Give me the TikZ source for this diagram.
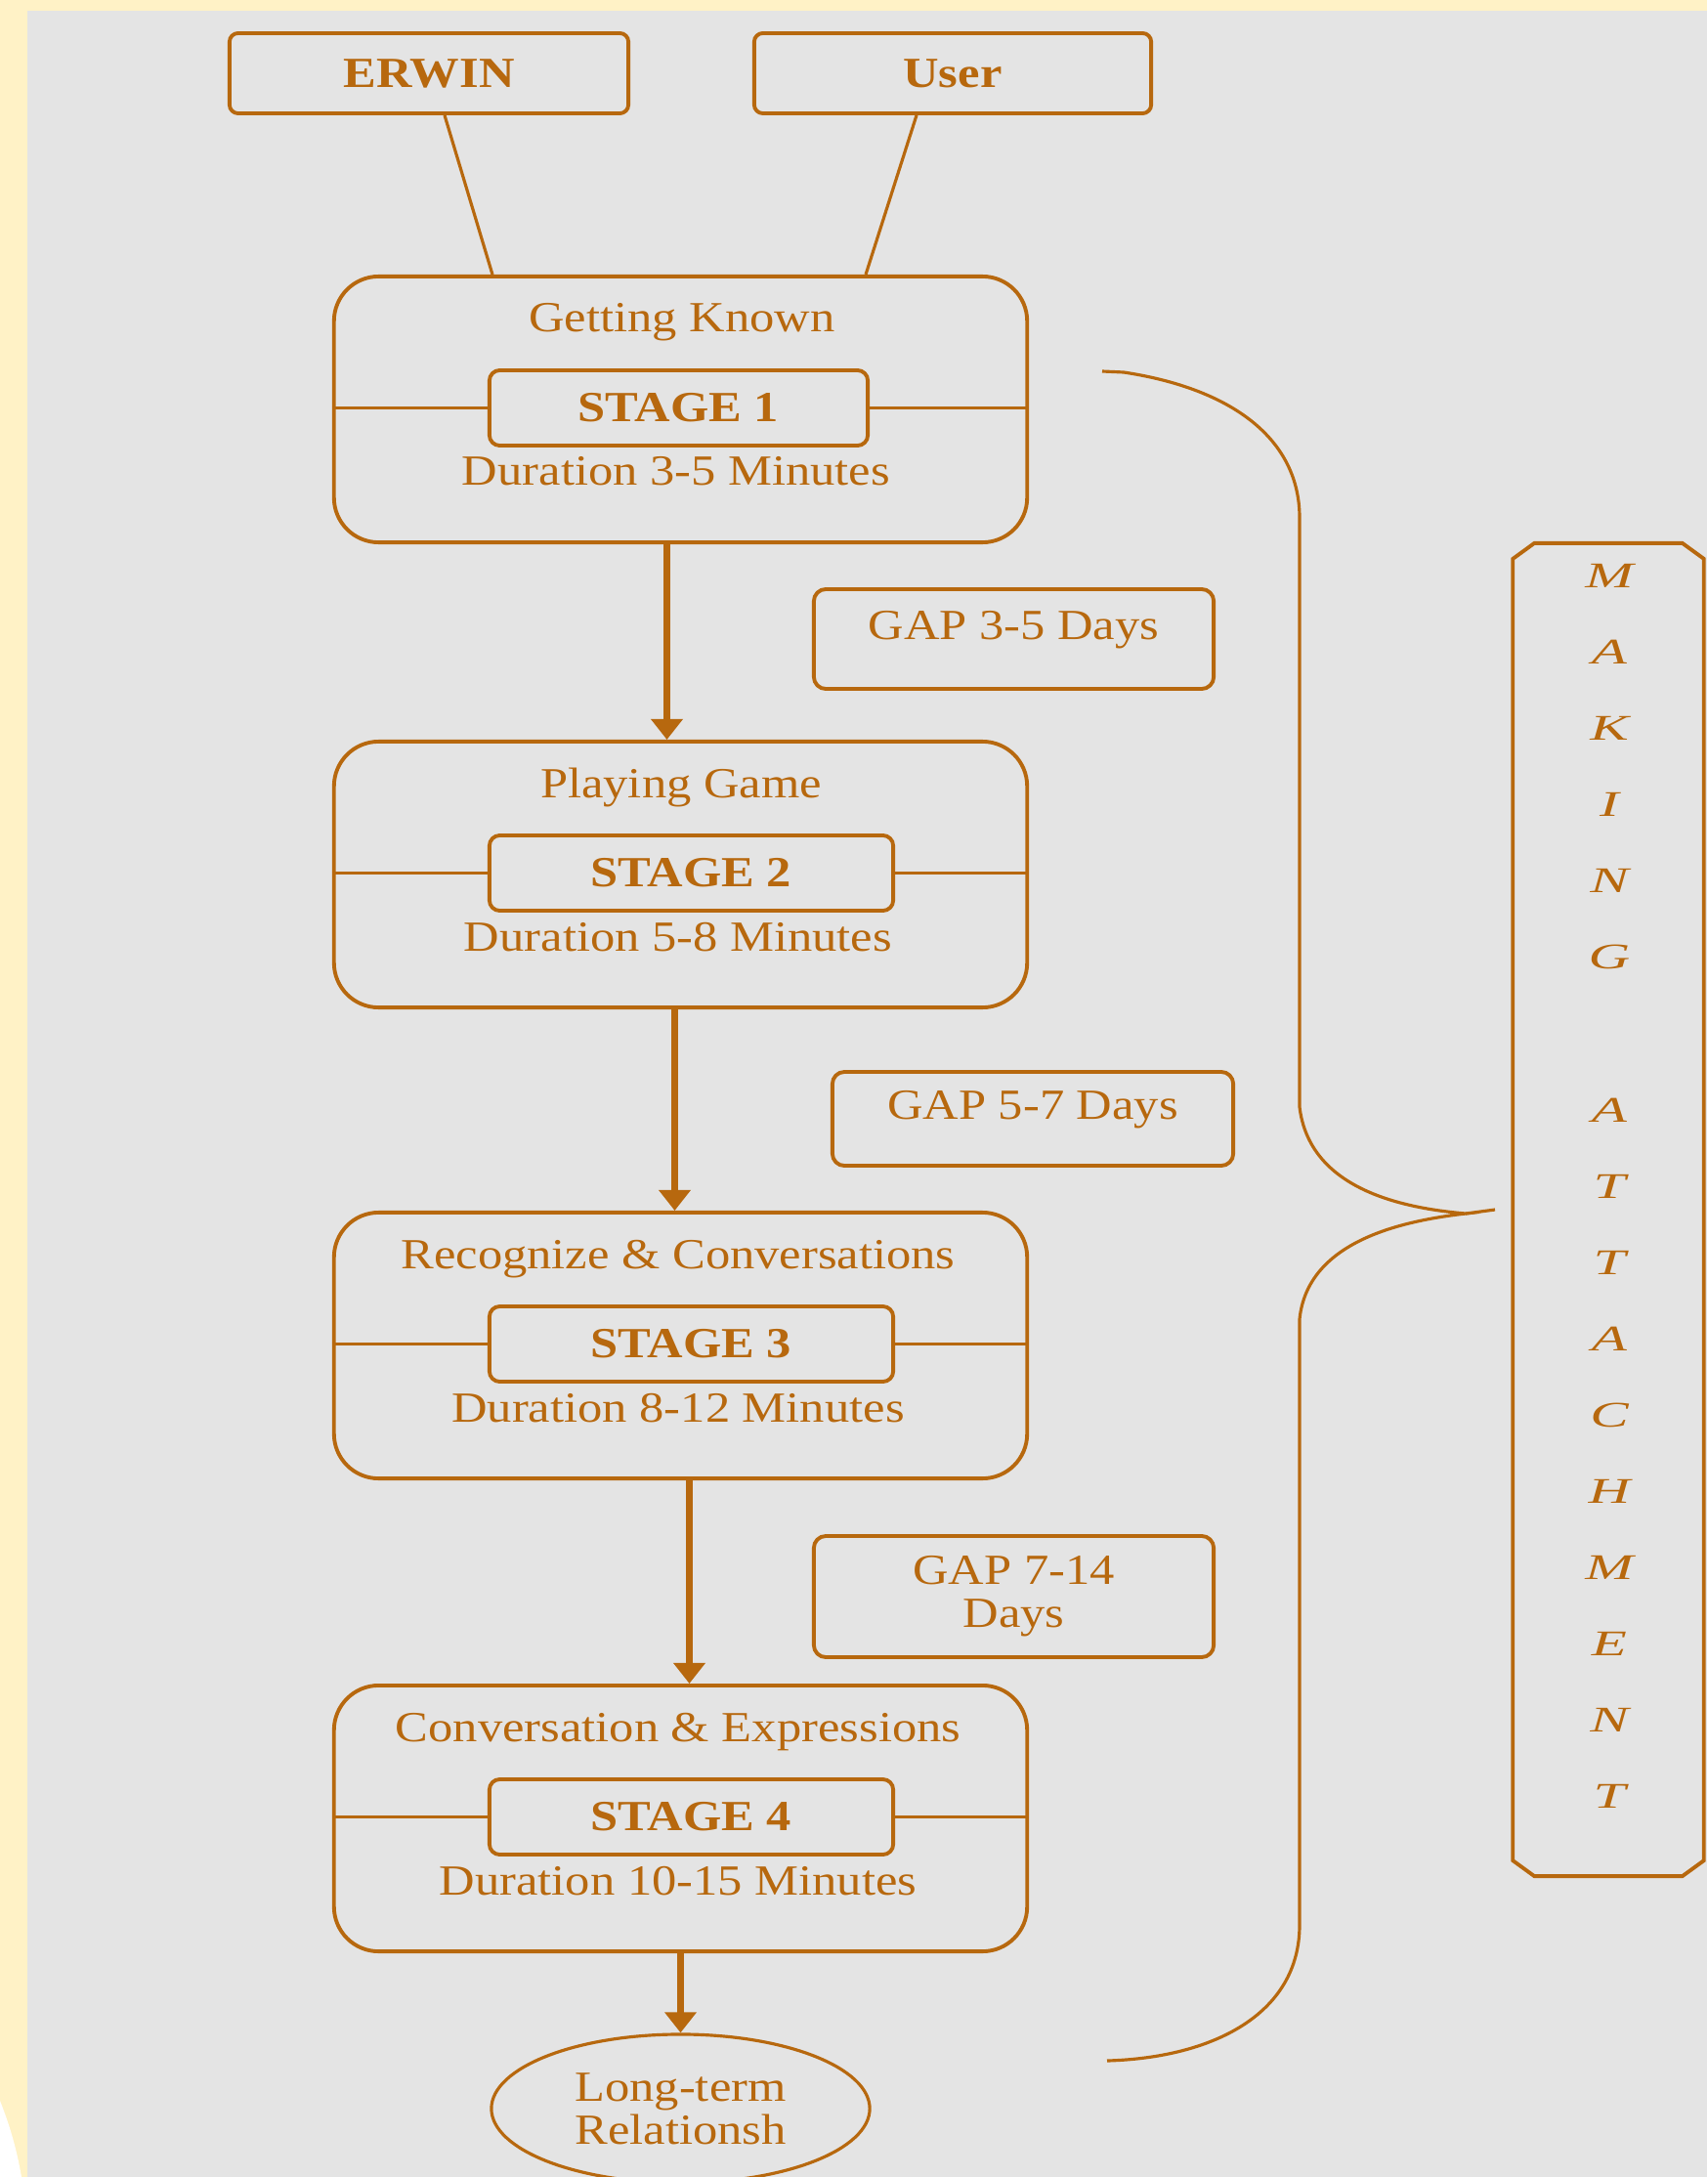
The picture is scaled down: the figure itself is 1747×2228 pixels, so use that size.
\documentclass[tikz,border=0pt]{standalone}
\usepackage{fontspec}
\setmainfont{Liberation Serif}[FakeStretch=1.15]
\newfontfamily\widefont{Liberation Serif}[FakeStretch=1.6]
\usetikzlibrary{shapes.geometric,shapes.misc,arrows.meta,calc}
\definecolor{brn}{RGB}{183,104,14}
\definecolor{bgyel}{RGB}{255,242,198}
\definecolor{panel}{RGB}{228,228,228}
\begin{document}
\begin{tikzpicture}[x=0.01cm,y=-0.01cm,
  every node/.style={text=brn, font=\fontsize{12.5}{12.5}\selectfont},
  brline/.style={draw=brn, line width=1.1pt},
  thinline/.style={draw=brn, line width=0.9pt},
  topbox/.style={brline, rounded corners=2.5pt, minimum height=0.82cm, inner sep=0pt, font=\fontsize{12.5}{12.5}\selectfont\bfseries},
  stagebox/.style={brline, rounded corners=13pt, minimum width=7.09cm, minimum height=2.72cm, inner sep=0pt},
  innerbox/.style={brline, rounded corners=3pt, minimum height=0.77cm, inner sep=0pt, font=\fontsize{12.5}{12.5}\selectfont\bfseries},
  gapbox/.style={brline, rounded corners=3.5pt, inner sep=0pt, align=center},
  stagetext/.style={anchor=base, inner sep=0pt},
  arr/.style={draw=brn, line width=1.8pt, -{Triangle[length=6pt,width=9pt]}},
]
% background
\useasboundingbox (0,0) rectangle (1747,2228);
\clip (0,0) rectangle (1747,2228);
\fill[bgyel] (0,0) rectangle (1747,2228);
\fill[panel] (28,11) rectangle (1747,2228);
\fill[white] (0,2150) .. controls (12,2180) and (18,2205) .. (22,2228) -- (0,2228) -- cycle;

% top boxes
\node[topbox, minimum width=4.08cm] (erwin) at (439,75) {ERWIN};
\node[topbox, minimum width=4.06cm] (user) at (975,75) {User};

% stage 1
\node[stagebox] (s1) at (696.5,419) {};
\node[stagetext] (s1t) at (698,340) {Getting Known};
\node[innerbox, minimum width=3.87cm] (s1in) at (694.5,417.5) {STAGE 1};
\node[stagetext] (s1d) at (692,497) {Duration 3-5 Minutes};
\draw[brline] (s1.west |- s1in.center) -- (s1in.west);
\draw[brline] (s1in.east) -- (s1.east |- s1in.center);

% stage 2
\node[stagebox] (s2) at (696.5,895) {};
\node[stagetext] (s2t) at (697,816) {Playing Game};
\node[innerbox, minimum width=4.13cm] (s2in) at (707.5,893.5) {STAGE 2};
\node[stagetext] (s2d) at (694,973) {Duration 5-8 Minutes};
\draw[brline] (s2.west |- s2in.center) -- (s2in.west);
\draw[brline] (s2in.east) -- (s2.east |- s2in.center);

% stage 3
\node[stagebox] (s3) at (696.5,1377) {};
\node[stagetext] (s3t) at (694,1298) {Recognize \& Conversations};
\node[innerbox, minimum width=4.13cm] (s3in) at (707.5,1375.5) {STAGE 3};
\node[stagetext] (s3d) at (694,1455) {Duration 8-12 Minutes};
\draw[brline] (s3.west |- s3in.center) -- (s3in.west);
\draw[brline] (s3in.east) -- (s3.east |- s3in.center);

% stage 4
\node[stagebox] (s4) at (696.5,1861) {};
\node[stagetext] (s4t) at (694,1782) {Conversation \& Expressions};
\node[innerbox, minimum width=4.13cm] (s4in) at (707.5,1859.5) {STAGE 4};
\node[stagetext] (s4d) at (694,1939) {Duration 10-15 Minutes};
\draw[brline] (s4.west |- s4in.center) -- (s4in.west);
\draw[brline] (s4in.east) -- (s4.east |- s4in.center);

% gap boxes
\node[gapbox, minimum width=4.09cm, minimum height=1.02cm, text height=9pt, text depth=9pt] (g1) at (1037.5,654) {GAP 3-5 Days};
\node[gapbox, minimum width=4.10cm, minimum height=0.96cm, text height=9pt, text depth=9pt] (g2) at (1057,1145) {GAP 5-7 Days};
\node[gapbox, minimum width=4.09cm, minimum height=1.24cm] (g3) at (1037.5,1634) {GAP 7-14\\Days};

% final ellipse
\node[ellipse, thinline, minimum width=3.87cm, minimum height=1.52cm, inner sep=0pt, align=center] (lt) at (696.5,2158) {Long-term\\Relationsh};

% connectors
\draw[thinline] ($(erwin.south)+(16,0)$) -- ($(s1.north)+(-192.5,0)$);
\draw[thinline] ($(user.south)+(-37,0)$) -- ($(s1.north)+(189.5,0)$);
\draw[arr] ($(s1.south)+(-14,0)$) -- ($(s2.north)+(-14,0)$);
\draw[arr] ($(s2.south)+(-6,0)$) -- ($(s3.north)+(-6,0)$);
\draw[arr] ($(s3.south)+(9,0)$) -- ($(s4.north)+(9,0)$);
\draw[arr] (s4.south) -- (lt.north);

% making attachment box (chamfered outline drawn on the node's anchors)
\node[inner sep=0pt, minimum width=1.94cm, minimum height=13.62cm] (mk) at (1646,1238) {};
\draw[brline]
  ($(mk.north west)+(0,16)$) -- ($(mk.north west)+(22,0)$) -- ($(mk.north east)+(-22,0)$) -- ($(mk.north east)+(0,16)$)
  -- ($(mk.south east)+(0,-16)$) -- ($(mk.south east)+(-22,0)$) -- ($(mk.south west)+(22,0)$) -- ($(mk.south west)+(0,-16)$) -- cycle;
\node[align=center, inner sep=0pt, font=\widefont\itshape\fontsize{10.5}{22.2}\selectfont] (mkt) at (1647,1214)
  {M\\A\\K\\I\\N\\G\\\mbox{}\\A\\T\\T\\A\\C\\H\\M\\E\\N\\T};

% brace
\coordinate (btop) at (1128,380);
\coordinate (btip) at (1500,1242);
\coordinate (bbot) at (1133,2109);
\draw[thinline] (btop) -- (1150,381) .. controls (1262,398) and (1330,450) .. (1330,530)
  -- (1330,1133) .. controls (1340,1215) and (1430,1236) .. (btip)
  .. controls (1430,1250) and (1338,1272) .. (1330,1350)
  -- (1330,1970) .. controls (1330,2062) and (1240,2106) .. (bbot);
\draw[thinline] (btip) -- (mk.west -| 1530,0);
\end{tikzpicture}
\end{document}
